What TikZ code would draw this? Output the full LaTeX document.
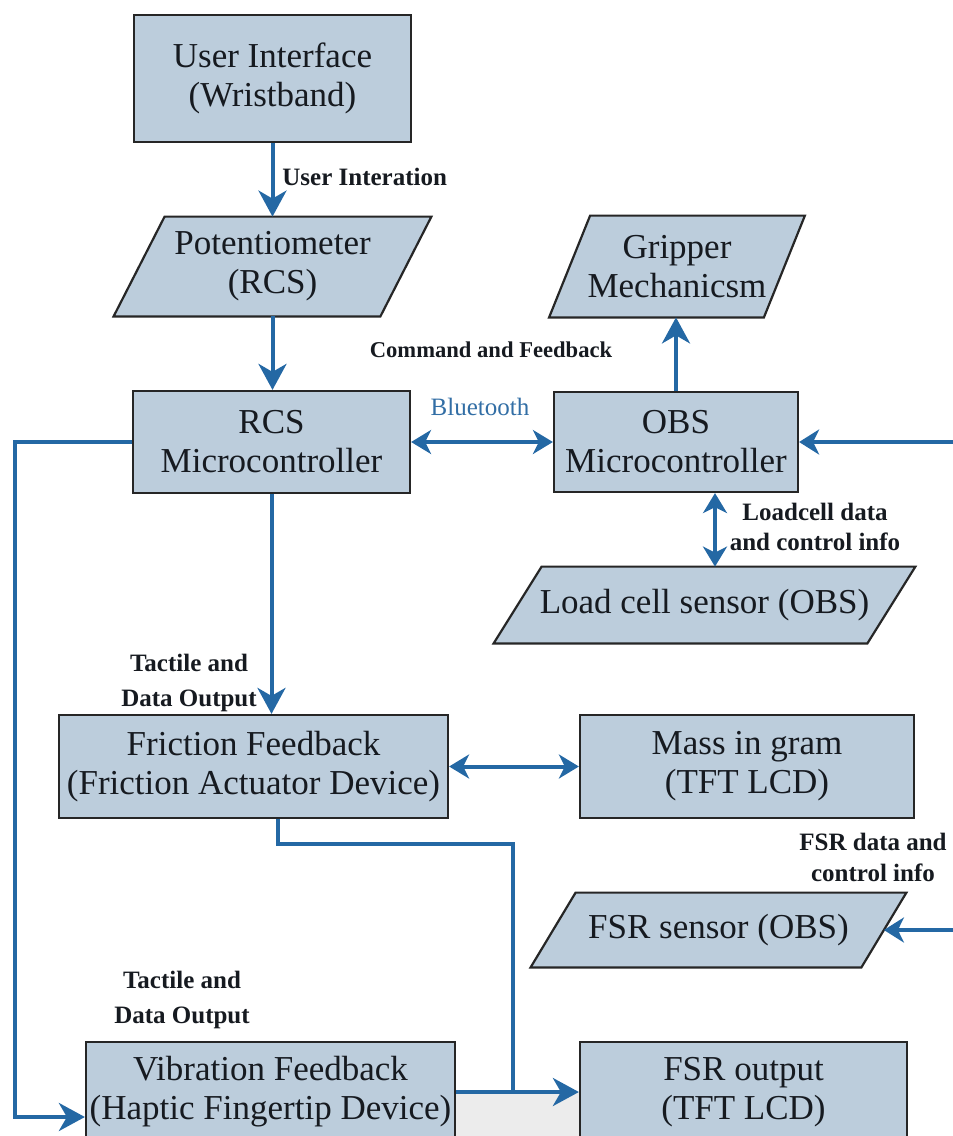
\documentclass[tikz,border=0pt]{standalone}
\usepackage{fontspec}
\setmainfont{Liberation Serif}
\usetikzlibrary{arrows.meta,backgrounds,calc}
\definecolor{boxc}{RGB}{188,205,220}
\definecolor{bordc}{RGB}{38,38,38}
\definecolor{arrc}{RGB}{36,104,164}
\definecolor{txtc}{RGB}{22,26,32}
\definecolor{btc}{RGB}{50,110,165}
\definecolor{shadec}{RGB}{236,236,236}
\begin{document}
\begin{tikzpicture}[x=0.5pt,y=-0.5pt,
 box/.style={draw=bordc,line width=1.1pt,fill=boxc,inner sep=0pt,align=center,text=txtc,font=\fontsize{17.5}{19.5}\selectfont},
 ptext/.style={inner sep=0pt,align=center,text=txtc,font=\fontsize{17.5}{19.5}\selectfont},
 pshape/.style={draw=bordc,line width=1.1pt,fill=boxc,line join=miter},
 lbl/.style={inner sep=0pt,align=center,text=txtc,font=\bfseries\fontsize{12.5}{16}\selectfont},
 conn/.style={draw=arrc,line width=2pt},
 big/.style={conn,-{Stealth[length=13pt,width=14pt,inset=4pt]}},
 med/.style={conn,-{Stealth[length=10pt,width=12.5pt,inset=3pt]}},
 medboth/.style={conn,{Stealth[length=10pt,width=12pt,inset=3pt]}-{Stealth[length=10pt,width=12pt,inset=3pt]}}
]
\useasboundingbox (0,0) rectangle (953,1136);
\clip (0,0) rectangle (953,1136);
\fill[shadec] (455,1092) rectangle (580,1136);

% nodes
\node[box,minimum width=138.5pt,minimum height=63.5pt] (ui) at (272.5,78.5) {User Interface\\(Wristband)};
\node[ptext,minimum width=133pt,minimum height=49.5pt] (pot) at (272.5,266.5) {Potentiometer\\(RCS)};
\node[box,minimum width=138.5pt,minimum height=51pt] (rcs) at (271.5,442) {RCS\\Microcontroller};
\node[ptext,minimum width=107pt,minimum height=50.5pt] (grip) at (677,266.5) {Gripper\\Mechanicsm};
\node[box,minimum width=122pt,minimum height=50pt] (obs) at (676,442) {OBS\\Microcontroller};
\node[ptext,minimum width=186.5pt,minimum height=38pt] (load) at (704.5,605) {Load cell sensor (OBS)};
\node[box,minimum width=194.5pt,minimum height=51.5pt] (fric) at (253.5,766.5) {Friction Feedback\\(Friction Actuator Device)};
\node[box,minimum width=167pt,minimum height=51.5pt] (mass) at (747,766.5) {Mass in gram\\(TFT LCD)};
\node[ptext,minimum width=165pt,minimum height=37pt] (fsrs) at (718.5,930) {FSR sensor (OBS)};
\node[box,minimum width=184.5pt,minimum height=50pt] (vib) at (270.5,1092) {Vibration Feedback\\(Haptic Fingertip Device)};
\node[box,minimum width=163.5pt,minimum height=50pt] (fsro) at (743.5,1092) {FSR output\\(TFT LCD)};

\begin{scope}[on background layer]
\draw[pshape] ([xshift=12.75pt]pot.north west) -- ([xshift=12.75pt]pot.north east) -- ([xshift=-12.75pt]pot.south east) -- ([xshift=-12.75pt]pot.south west) -- cycle;
\draw[pshape] ([xshift=10.25pt]grip.north west) -- ([xshift=10.25pt]grip.north east) -- ([xshift=-10.25pt]grip.south east) -- ([xshift=-10.25pt]grip.south west) -- cycle;
\draw[pshape] ([xshift=12pt]load.north west) -- ([xshift=12pt]load.north east) -- ([xshift=-12pt]load.south east) -- ([xshift=-12pt]load.south west) -- cycle;
\draw[pshape] ([xshift=11.25pt]fsrs.north west) -- ([xshift=11.25pt]fsrs.north east) -- ([xshift=-11.25pt]fsrs.south east) -- ([xshift=-11.25pt]fsrs.south west) -- cycle;
\end{scope}

% coordinates
\coordinate (re1) at (953,442);
\coordinate (re2) at (953,930);
\coordinate (lc) at (715,500);
\coordinate (lx) at (15,0);
\coordinate (fx) at (278,0);
\coordinate (mx) at (513,844);

% connectors
\draw[big] (ui.south) -- (pot.north);
\draw[big] (pot.south) -- (pot.south |- rcs.north);
\draw[medboth] (rcs.east) -- (obs.west);
\draw[big] (obs.north) -- (obs.north |- grip.south);
\draw[med] (re1) -- (obs.east);
\draw[medboth] (obs.south -| lc) -- (load.north -| lc);
\draw[big] (rcs.south) -- (rcs.south |- fric.north);
\draw[medboth] (fric.east) -- (mass.west);
\draw[big] (rcs.west) -- (rcs.west -| lx) |- ($(vib.west)+(0,25)$);
\draw[conn] (fric.south -| fx) |- (mx) -- (mx |- vib.east);
\draw[big] (vib.east) -- (fsro.west);
\draw[med] (re2) -- (fsrs.east);

% labels
\node[lbl,anchor=west] (l1) at (282,177) {User Interation};
\node[lbl,font=\bfseries\fontsize{11.3}{14}\selectfont] (l2) at (491,350) {Command and Feedback};
\node[inner sep=0pt,text=btc,font=\fontsize{12.5}{16}\selectfont] (l3) at (480,407) {Bluetooth};
\node[lbl,font=\bfseries\fontsize{12.5}{15}\selectfont] (l4) at (815,527) {Loadcell data\\and control info};
\node[lbl,font=\bfseries\fontsize{12.5}{17.5}\selectfont] (l5) at (189,683) {Tactile and\\Data Output};
\node[lbl,font=\bfseries\fontsize{12.5}{17.5}\selectfont] (l6) at (182,1000) {Tactile and\\Data Output};
\node[lbl,font=\bfseries\fontsize{12.5}{15.5}\selectfont] (l7) at (873,857) {FSR data and\\control info};
\end{tikzpicture}
\end{document}
